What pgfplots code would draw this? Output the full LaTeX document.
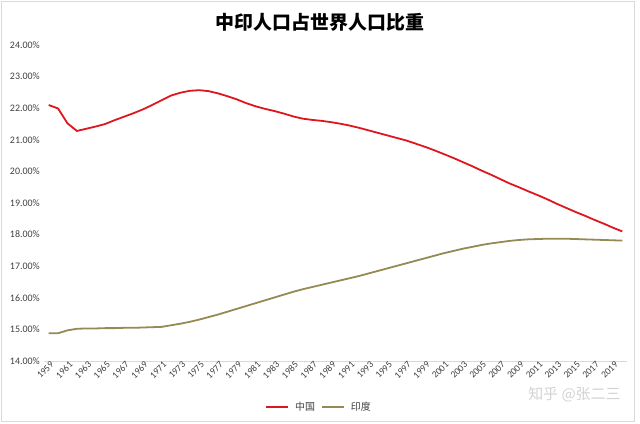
\documentclass[border=0pt]{standalone}
\usepackage{pgfplots}
\pgfplotsset{compat=1.18}
\usepackage{pgfplotstable}
\usepackage{fontspec}
\setmainfont{Carlito}
\newfontfamily\cjk{Noto Sans CJK SC}
\definecolor{cnred}{RGB}{222,22,30}
\definecolor{inolive}{RGB}{148,138,84}
\definecolor{axgray}{RGB}{217,217,217}
\definecolor{txt}{RGB}{64,64,64}
\pgfplotstableread{
x china india
0 22.10 14.88
1 21.99 14.88
2 21.52 14.97
3 21.28 15.02
4 21.35 15.03
5 21.42 15.03
6 21.50 15.04
7 21.62 15.04
8 21.73 15.05
9 21.84 15.05
10 21.96 15.06
11 22.10 15.07
12 22.25 15.08
13 22.40 15.13
14 22.49 15.18
15 22.55 15.24
16 22.57 15.31
17 22.54 15.39
18 22.47 15.47
19 22.38 15.56
20 22.28 15.65
21 22.16 15.74
22 22.06 15.83
23 21.98 15.92
24 21.91 16.01
25 21.83 16.10
26 21.74 16.19
27 21.67 16.27
28 21.63 16.34
29 21.60 16.41
30 21.56 16.48
31 21.51 16.55
32 21.45 16.62
33 21.38 16.69
34 21.30 16.77
35 21.22 16.85
36 21.14 16.93
37 21.06 17.01
38 20.98 17.09
39 20.88 17.17
40 20.78 17.25
41 20.67 17.33
42 20.55 17.41
43 20.43 17.48
44 20.30 17.55
45 20.17 17.61
46 20.03 17.67
47 19.90 17.72
48 19.76 17.76
49 19.62 17.80
50 19.50 17.83
51 19.37 17.85
52 19.25 17.86
53 19.12 17.87
54 18.98 17.87
55 18.85 17.87
56 18.72 17.86
57 18.60 17.85
58 18.47 17.84
59 18.35 17.83
60 18.22 17.82
61 18.10 17.81
}\data
\begin{document}
\begin{tikzpicture}[x=1bp,y=1bp]
\useasboundingbox (0,0) rectangle (640,423);
\draw[axgray, line width=0.8bp] (1,1.5) rectangle (634,421.5);
\node[font=\cjk\bfseries\fontsize{19}{22}\selectfont, text=black] at (320,401) {中印人口占世界人口比重};
\begin{axis}[
  at={(44bp,62bp)}, anchor=south west,
  scale only axis, width=583bp, height=316bp,
  xmin=-0.5, xmax=61.5, ymin=14, ymax=24,
  axis x line*=bottom,
  axis y line*=left,
  x axis line style={axgray, line width=0.8bp, -},
  y axis line style={draw=none},
  major tick length=0pt,
  xtick={0,2,...,60},
  xticklabels={1959,1961,1963,1965,1967,1969,1971,1973,1975,1977,1979,1981,1983,1985,1987,1989,1991,1993,1995,1997,1999,2001,2003,2005,2007,2009,2011,2013,2015,2017,2019},
  xticklabel style={rotate=45, anchor=east, font=\fontsize{9.5}{11}\selectfont, text=txt, inner sep=1pt, yshift=-4bp, xshift=2bp},
  ytick={14,15,...,24},
  yticklabel={\pgfmathprintnumber[fixed,fixed zerofill,precision=2]{\tick}\%},
  yticklabel style={font=\fontsize{10}{12}\selectfont, text=txt, inner sep=1pt, xshift=-3bp},
  /pgf/number format/assume math mode=true,
  clip=false,
  legend style={at={(0.4717,-0.1456)}, anchor=center, draw=none, fill=none,
    font=\cjk\fontsize{10}{12}\selectfont, text=txt, column sep=4bp, inner sep=0pt},
  legend columns=2,
  legend image code/.code={\draw[#1, line width=1.8bp] (0,0) -- (22bp,0);},
]
\addplot[cnred, line width=1.8bp, no marks] table[x=x, y=china] {\data};
\addlegendentry{中国}
\addplot[inolive, line width=1.8bp, no marks] table[x=x, y=india] {\data};
\addlegendentry{印度}
\end{axis}
\node[font=\cjk\fontsize{15}{18}\selectfont, text=gray!35, anchor=east] at (624,28) {知乎 @张二三};
\end{tikzpicture}
\end{document}
